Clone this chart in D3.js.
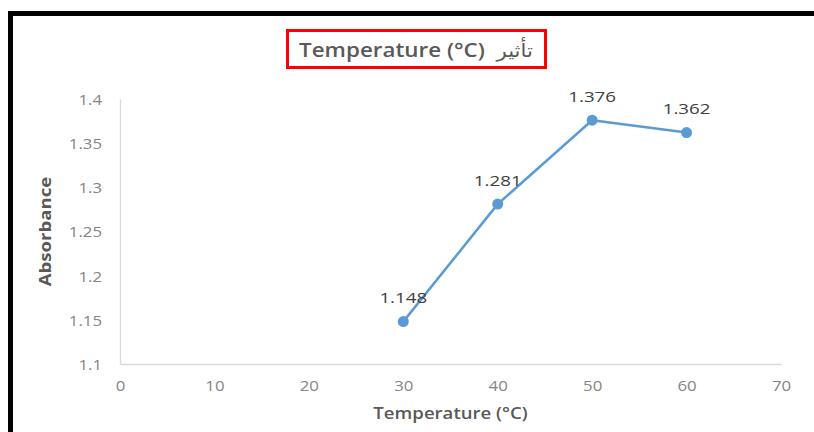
<!DOCTYPE html>
<html>
<head>
<meta charset="utf-8">
<script src="https://cdn.jsdelivr.net/npm/d3@7"></script>
<style>
  html, body { margin: 0; padding: 0; background: #fff; }
  svg { display: block; }
  text { font-family: "Open Sans", "DejaVu Sans", sans-serif; }
</style>
</head>
<body>
<svg id="chart" width="814" height="432"></svg>
<script>
// Absorbance measured at each temperature
const temperatures = [30, 40, 50, 60];
const absorbance = [1.148, 1.281, 1.376, 1.362];
const xTicks = [0, 10, 20, 30, 40, 50, 60, 70];
const yTicks = [1.1, 1.15, 1.2, 1.25, 1.3, 1.35, 1.4];
const titleLatin = "Temperature (°C)";
const titleArabic = "تأثير";
const xTitle = "Temperature (°C)";
const yTitle = "Absorbance";

const W = 814, H = 432;
const plot = { left: 120, right: 781, top: 99, bottom: 364 };
const SX = 1.2; // horizontal stretch applied to labels

const svg = d3.select("#chart");

const x = d3.scaleLinear().domain([0, 70]).range([plot.left, plot.right]);
const y = d3.scaleLinear().domain([1.1, 1.4]).range([plot.bottom, plot.top]);

// outer frame
svg.append("rect")
  .attr("x", 10.5).attr("y", 13.5)
  .attr("width", W + 20).attr("height", H + 20)
  .attr("fill", "#fff")
  .attr("stroke", "#000").attr("stroke-width", 5);

function label(g, tx, ty, str, opts) {
  return g.append("text")
    .attr("transform", `translate(${tx},${ty}) scale(${opts.sx || SX},1)`)
    .attr("text-anchor", opts.anchor || "middle")
    .attr("dominant-baseline", "central")
    .attr("font-size", opts.size)
    .attr("font-weight", opts.weight || 400)
    .attr("fill", opts.fill)
    .text(str);
}

// title with red outline
const titleG = svg.append("g");
titleG.append("rect")
  .attr("x", 287.5).attr("y", 30.5).attr("width", 258).attr("height", 37)
  .attr("fill", "#fff").attr("stroke", "#ff0000").attr("stroke-width", 3);
const titleText = titleG.append("text")
  .attr("transform", "translate(416,49) scale(1.12,1)")
  .attr("text-anchor", "middle")
  .attr("dominant-baseline", "central")
  .attr("direction", "ltr")
  .attr("fill", "#595959");
titleText.append("tspan").attr("font-size", 20).attr("font-weight", 600).text(titleLatin + "\u00a0\u00a0");
titleText.append("tspan").attr("font-size", 19).attr("font-weight", 400).text(titleArabic);

// axes
const xAxis = d3.axisBottom(x).tickValues(xTicks).tickSize(0).tickFormat(d3.format("d"));
const yAxis = d3.axisLeft(y).tickValues(yTicks).tickSize(0).tickFormat(d => String(+d.toFixed(2)));

const gx = svg.append("g").attr("transform", `translate(0,${plot.bottom})`).call(xAxis);
gx.select(".domain").attr("stroke", "#d9d9d9").attr("stroke-width", 1.3);
gx.selectAll(".tick text").remove();
gx.selectAll(".tick").each(function(d) {
  label(d3.select(this), 0, 22, xAxis.tickFormat()(d), { size: 14, fill: "#858585" });
});

const gy = svg.append("g").attr("transform", `translate(${plot.left},0)`).call(yAxis);
gy.select(".domain").attr("stroke", "#d9d9d9").attr("stroke-width", 1.3);
gy.selectAll(".tick text").remove();
gy.selectAll(".tick").each(function(d) {
  label(d3.select(this), -18, 0, yAxis.tickFormat()(d), { size: 14, fill: "#858585", anchor: "end" });
});

// axis titles
label(svg, (plot.left + plot.right) / 2, 413, xTitle, { size: 15.5, weight: 600, fill: "#595959" });
svg.append("text")
  .attr("transform", `translate(45,${(plot.top + plot.bottom) / 2}) rotate(-90) scale(1.2,1)`)
  .attr("text-anchor", "middle").attr("dominant-baseline", "central")
  .attr("font-size", 15.5).attr("font-weight", 700).attr("fill", "#595959")
  .text(yTitle);

// series
const pts = temperatures.map((t, i) => ({ t, v: absorbance[i] }));
const line = d3.line().x(d => x(d.t)).y(d => y(d.v));
svg.append("path").datum(pts)
  .attr("d", line).attr("fill", "none")
  .attr("stroke", "#5b9bd5").attr("stroke-width", 2.5).attr("stroke-linejoin", "round");
svg.selectAll("circle.pt").data(pts).join("circle")
  .attr("class", "pt")
  .attr("cx", d => x(d.t)).attr("cy", d => y(d.v)).attr("r", 5.5)
  .attr("fill", "#5b9bd5");

// value labels
pts.forEach(d => {
  label(svg, x(d.t), y(d.v) - 24, d3.format(".3f")(d.v), { size: 15, fill: "#404040", sx: 1.25 });
});
</script>
</body>
</html>
